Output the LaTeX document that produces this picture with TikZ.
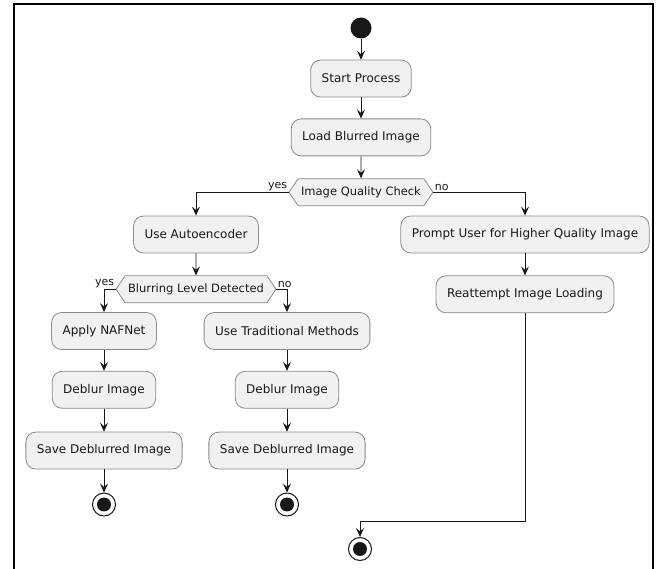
\documentclass[tikz,border=0pt]{standalone}
\usepackage{fontspec}
\newfontfamily\umlfont{DejaVu Sans}
\usetikzlibrary{positioning,arrows.meta,shapes.symbols}
\definecolor{actfill}{HTML}{F1F1F1}
\definecolor{actline}{HTML}{8A8A8A}
\definecolor{ink}{HTML}{181818}
\tikzset{
  act/.style={draw=actline, fill=actfill, rounded corners=10pt, line width=0.8pt,
    minimum height=37pt, inner xsep=11pt, text=ink, font=\umlfont\fontsize{12}{14}\selectfont},
  check/.style={shape=signal, signal to=west and east, signal pointer angle=112,
    draw=actline, fill=actfill, line width=0.8pt, minimum height=27pt, inner xsep=3pt,
    text=ink, font=\umlfont\fontsize{11.5}{13}\selectfont},
  flow/.style={draw=ink, line width=0.9pt, -{Stealth[length=9pt,width=8pt,inset=3.5pt]}},
  branch/.style={font=\umlfont\fontsize{11}{12}\selectfont, text=ink, inner sep=1pt},
  startdot/.style={circle, fill=ink, minimum size=21pt, inner sep=0pt},
  enddot/.style={circle, draw=ink, line width=1pt, fill=white, minimum size=23pt, inner sep=0pt,
    path picture={\fill[ink] (path picture bounding box.center) circle (7pt);}}
}
\begin{document}
\begin{tikzpicture}[x=1pt, y=-1pt, node distance=21pt]
  \useasboundingbox (0,0) rectangle (665,569);
  % frame
  \draw[black, line width=2pt] (14,580) -- (14,4) -- (653,4) -- (653,580);

  % main line
  \node[startdot] (start) at (361,28) {};
  \node[act, below=of start] (sp) {Start Process};
  \node[act, below=of sp] (lbi) {Load Blurred Image};
  \node[check, below=22pt of lbi] (iqc) {Image Quality Check};

  % yes branch
  \node[act] (auto) at (196,234.5) {Use Autoencoder};
  \node[check, below=22pt of auto] (blur) {Blurring Level Detected};
  \node[act] (naf) at (104,331) {Apply NAFNet};
  \node[act, below=of naf] (deb1) {Deblur Image};
  \node[act, below=23pt of deb1] (save1) {Save Deblurred Image};
  \node[enddot, below=23pt of save1] (e1) {};
  \node[act] (trad) at (287,331) {Use Traditional Methods};
  \node[act, below=of trad] (deb2) {Deblur Image};
  \node[act, below=23pt of deb2] (save2) {Save Deblurred Image};
  \node[enddot, below=23pt of save2] (e2) {};

  % no branch
  \node[act] (prompt) at (525,234.5) {Prompt User for Higher Quality Image};
  \node[act, below=22pt of prompt] (reat) {Reattempt Image Loading};
  \coordinate (j3) at (360,521);
  \node[enddot] (e3) at (360,549) {};

  \draw[flow] (start) -- (sp);
  \draw[flow] (sp) -- (lbi);
  \draw[flow] (lbi) -- (iqc);
  \draw[flow] (iqc.west) node[branch, anchor=south east] {yes} -| (auto.north);
  \draw[flow] (iqc.east) node[branch, anchor=south west] {no} -| (prompt.north);
  \draw[flow] (auto) -- (blur);
  \draw[flow] (blur.west) node[branch, anchor=south east] {yes} -| (naf.north);
  \draw[flow] (blur.east) node[branch, anchor=south west] {no} -| (trad.north);
  \draw[flow] (naf) -- (deb1);
  \draw[flow] (deb1) -- (save1);
  \draw[flow] (save1) -- (e1);
  \draw[flow] (trad) -- (deb2);
  \draw[flow] (deb2) -- (save2);
  \draw[flow] (save2) -- (e2);
  \draw[flow] (prompt) -- (reat);
  \draw[flow] (reat.south) |- (j3) -- (e3.north);
\end{tikzpicture}
\end{document}
